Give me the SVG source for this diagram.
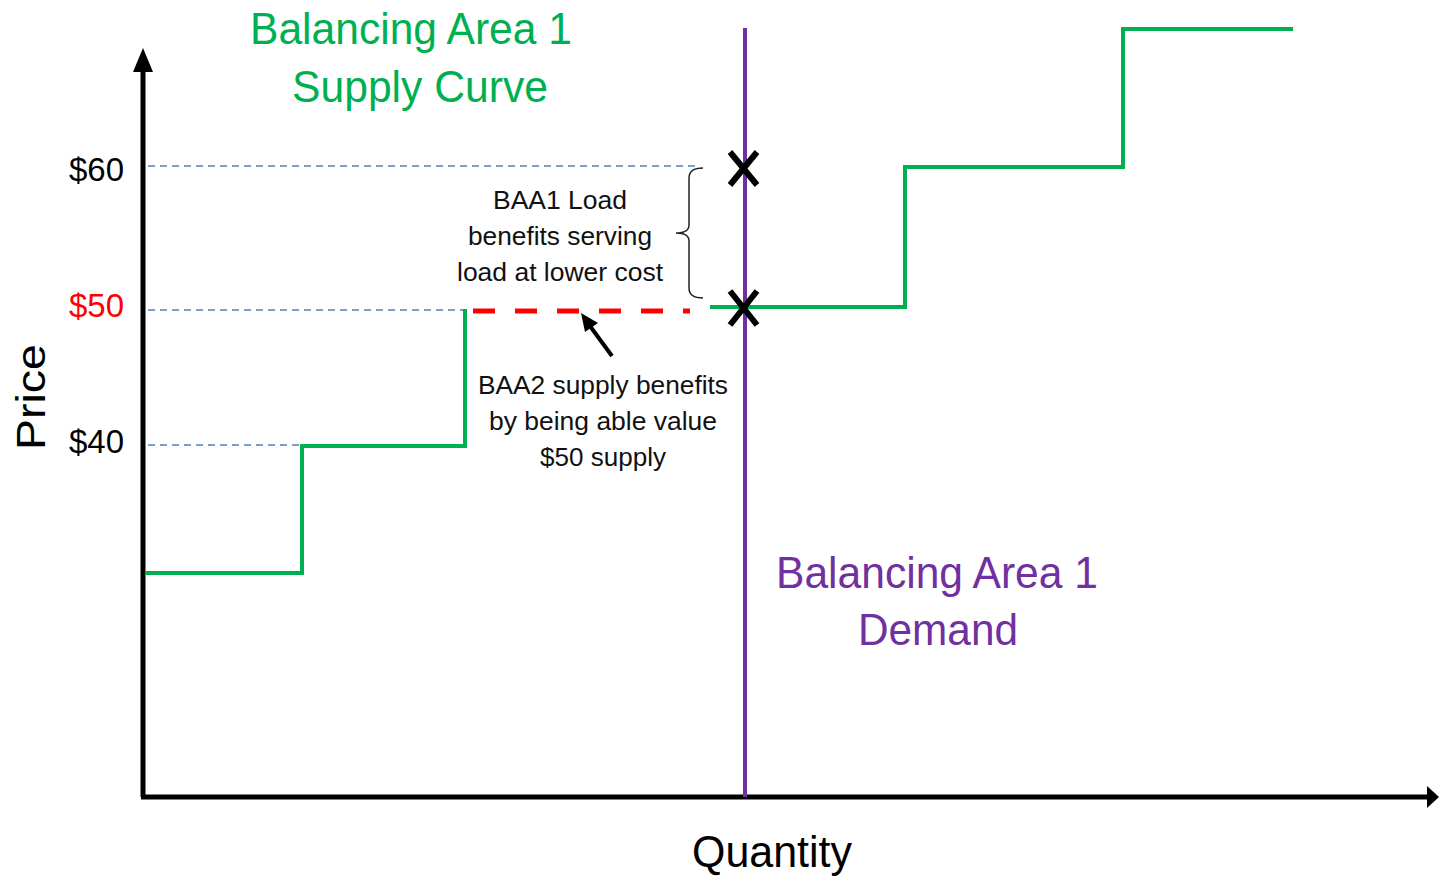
<svg xmlns="http://www.w3.org/2000/svg" width="1439" height="877" viewBox="0 0 1439 877">
<style>
text{font-family:"Liberation Sans",Arial,sans-serif;}
.big{font-size:44px;text-anchor:middle;}
.tick{font-size:33px;text-anchor:end;}
.note{font-size:26px;text-anchor:middle;fill:#111;}
.guide{stroke:#4f81bd;stroke-width:1.5;stroke-dasharray:7 5;fill:none;}
.supply{stroke:#00b050;stroke-width:4;fill:none;}
.xm{stroke:#000;stroke-width:6;}
</style>
<defs>
<marker id="ah" markerWidth="8" markerHeight="8" refX="7" refY="4" orient="auto" markerUnits="userSpaceOnUse">
<path d="M0,0 L8,4 L0,8 Z" fill="#000"/>
</marker>
</defs>
<rect width="1439" height="877" fill="#fff"/>
<g id="guides">
<line class="guide" x1="148" y1="166" x2="700" y2="166"/>
<line class="guide" x1="148" y1="310" x2="463" y2="310"/>
<line class="guide" x1="148" y1="445" x2="300" y2="445"/>
</g>
<g id="axes">
<line x1="143" y1="797" x2="143" y2="70" stroke="#000" stroke-width="5"/>
<path d="M143,48 L153,72 L133,72 Z" fill="#000"/>
<line x1="141" y1="797" x2="1430" y2="797" stroke="#000" stroke-width="5"/>
<path d="M1439,797 L1427,786 L1427,808 Z" fill="#000"/>
</g>
<g id="demand">
<line x1="745" y1="28" x2="745" y2="797" stroke="#7030a0" stroke-width="4"/>
</g>
<g id="supply">
<polyline class="supply" points="145,573 302,573 302,446 465,446 465,309"/>
<line x1="473" y1="311" x2="690" y2="311" stroke="#ff0000" stroke-width="5" stroke-dasharray="22 20"/>
<polyline class="supply" points="710,307 905,307 905,167 1123,167 1123,29 1293,29"/>
</g>
<g id="marks">
<line class="xm" x1="730" y1="152" x2="757" y2="185"/>
<line class="xm" x1="757" y1="152" x2="730" y2="185"/>
<line class="xm" x1="730" y1="291" x2="757" y2="325"/>
<line class="xm" x1="757" y1="291" x2="730" y2="325"/>
</g>
<g id="brace">
<path d="M703,168 Q689,168 689,178 L689,225 Q689,233 676,233 Q689,233 689,241 L689,288 Q689,298 703,298" fill="none" stroke="#222" stroke-width="1.5"/>
</g>
<g id="connectors">
<line x1="612" y1="356" x2="587" y2="322" stroke="#000" stroke-width="4"/>
<path d="M581,313 L598,323 L585,332 Z" fill="#000"/>
</g>
<g id="labels">
<text class="big" x="411" y="44" fill="#00b050" textLength="322" lengthAdjust="spacingAndGlyphs">Balancing Area 1</text>
<text class="big" x="420" y="102" fill="#00b050" textLength="256" lengthAdjust="spacingAndGlyphs">Supply Curve</text>
<text class="big" x="937" y="588" fill="#7030a0" textLength="322" lengthAdjust="spacingAndGlyphs">Balancing Area 1</text>
<text class="big" x="938" y="645" fill="#7030a0" textLength="160" lengthAdjust="spacingAndGlyphs">Demand</text>
<text class="big" x="772" y="867" fill="#000" textLength="160" lengthAdjust="spacingAndGlyphs">Quantity</text>
<text x="45" y="397" fill="#000" font-size="40" text-anchor="middle" transform="rotate(-90 45 397)" textLength="106" lengthAdjust="spacingAndGlyphs">Price</text>
<text class="tick" x="124" y="181" fill="#000">$60</text>
<text class="tick" x="124" y="317" fill="#ff0000">$50</text>
<text class="tick" x="124" y="453" fill="#000">$40</text>
<text class="note" x="560" y="209" textLength="134" lengthAdjust="spacingAndGlyphs">BAA1 Load</text>
<text class="note" x="560" y="245" textLength="184" lengthAdjust="spacingAndGlyphs">benefits serving</text>
<text class="note" x="560" y="281" textLength="206" lengthAdjust="spacingAndGlyphs">load at lower cost</text>
<text class="note" x="603" y="394" textLength="250" lengthAdjust="spacingAndGlyphs">BAA2 supply benefits</text>
<text class="note" x="603" y="430" textLength="228" lengthAdjust="spacingAndGlyphs">by being able value</text>
<text class="note" x="603" y="466" textLength="126" lengthAdjust="spacingAndGlyphs">$50 supply</text>
</g>
</svg>
